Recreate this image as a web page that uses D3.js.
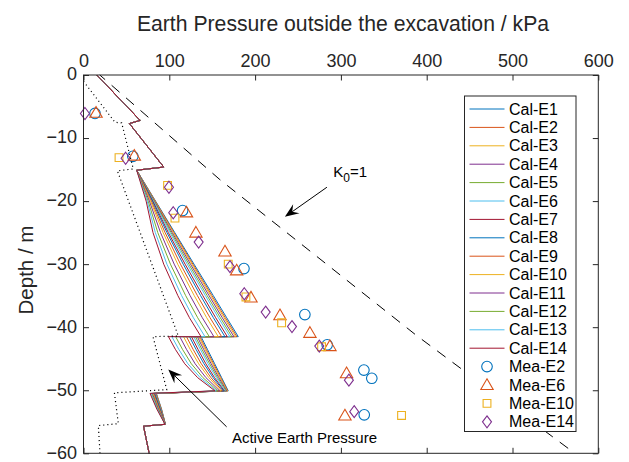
<!DOCTYPE html>
<html>
<head>
<meta charset="utf-8">
<script src="https://cdn.jsdelivr.net/npm/d3@7"></script>
<style>
  html, body { margin: 0; padding: 0; background: #fff; }
  svg { display: block; font-family: "Liberation Sans", Arial, Helvetica, sans-serif; }
</style>
</head>
<body>
<svg id="chart" width="629" height="462"></svg>
<script>
// ---- data -------------------------------------------------------------
const xTicks = [0, 100, 200, 300, 400, 500, 600];
const yTicks = [0, -10, -20, -30, -40, -50, -60];

const calcNames = ["Cal-E1", "Cal-E2", "Cal-E3", "Cal-E4", "Cal-E5", "Cal-E6", "Cal-E7",
                   "Cal-E8", "Cal-E9", "Cal-E10", "Cal-E11", "Cal-E12", "Cal-E13", "Cal-E14"];
const lineColors = ["#0072BD", "#D95319", "#EDB120", "#7E2F8E", "#77AC30", "#4DBEEE", "#A2142F"];

// depths (m) shared by every calculated profile
const calcDepth = [0, -7.2, -7.7, -14.6, -15.1,
                   -20, -25, -30, -35, -38.5, -41.5,
                   -41.5, -43.5, -45.8, -48, -50.1,
                   -50.5, -53, -55.4,
                   -55.7, -60];
// pressures (kPa) common to all profiles near the surface and at the toe
const calcTop = [15.5, 66, 53.5, 93.5, 62];
const calcBottom = [70, 76.5];
// pressures (kPa) of each profile between -20 m and -55.4 m
const calcE1  = [84.0, 106.4, 128.8, 151.3, 166.9, 180.4, 137.0, 144.4, 152.9, 161.0, 168.7, 85.0, 91.0, 95.5];
const calcE2  = [83.6, 105.5, 127.5, 149.7, 165.3, 178.8, 135.6, 143.0, 151.6, 160.0, 168.1, 84.7, 90.8, 95.5];
const calcE3  = [83.2, 104.6, 126.3, 148.3, 163.8, 177.3, 134.3, 141.7, 150.4, 159.0, 167.6, 84.5, 90.6, 95.5];
const calcE4  = [82.7, 103.4, 124.7, 146.4, 161.8, 175.3, 132.6, 140.0, 148.8, 157.7, 166.9, 84.1, 90.4, 95.4];
const calcE5  = [82.1, 102.1, 122.8, 144.2, 159.5, 173.0, 130.5, 138.0, 147.0, 156.2, 166.1, 83.7, 90.1, 95.4];
const calcE6  = [81.6, 100.7, 120.9, 142.1, 157.2, 170.7, 128.5, 136.1, 145.1, 154.8, 165.2, 83.3, 89.8, 95.4];
const calcE7  = [80.8,  98.9, 118.4, 139.1, 154.1, 167.6, 125.8, 133.4, 142.6, 152.7, 164.1, 82.8, 89.4, 95.4];
const calcE8  = [80.1,  97.3, 116.2, 136.5, 151.4, 164.9, 123.4, 131.1, 140.4, 151.0, 163.2, 82.3, 89.0, 95.3];
const calcE9  = [79.1,  95.1, 113.0, 132.8, 147.5, 161.0, 120.0, 127.7, 137.3, 148.5, 161.8, 81.6, 88.5, 95.3];
const calcE10 = [78.1,  92.8, 109.8, 129.1, 143.6, 157.1, 116.6, 124.3, 134.2, 146.0, 160.4, 81.0, 88.0, 95.2];
const calcE11 = [76.8,  89.8, 105.7, 124.3, 138.5, 152.0, 112.2, 120.0, 130.1, 142.7, 158.6, 80.1, 87.4, 95.2];
const calcE12 = [75.4,  86.6, 101.3, 119.1, 133.1, 146.6, 107.4, 115.3, 125.7, 139.2, 156.6, 79.2, 86.7, 95.1];
const calcE13 = [74.2,  83.7,  97.2, 114.4, 128.1, 141.6, 103.0, 111.0, 121.7, 136.0, 154.8, 78.3, 86.1, 95.1];
const calcE14 = [73.0,  81.0,  93.5, 110.0, 123.5, 137.0,  99.0, 107.0, 118.0, 133.0, 153.2, 77.5, 85.5, 95.0];
const calcMiddle = [calcE1, calcE2, calcE3, calcE4, calcE5, calcE6, calcE7,
                    calcE8, calcE9, calcE10, calcE11, calcE12, calcE13, calcE14];

// measured values [pressure kPa, depth m]
const meaNames = ["Mea-E2", "Mea-E6", "Mea-E10", "Mea-E14"];
const meaE2 = [[13.4, -6.1], [57.5, -12.9], [115.5, -21.5], [187, -30.7], [258, -38.0],
               [284, -42.8], [326.8, -46.8], [336, -48.1], [327.2, -53.9]];
const meaE6 = [[14.6, -6.0], [59.2, -12.8], [120, -21.8], [131, -25.0], [164.9, -28.0],
               [178.5, -31.0], [195.2, -35.3], [229, -38.1], [263.9, -40.9], [287.2, -43.0],
               [306.6, -47.3], [304.7, -54.0]];
const meaE10 = [[41.4, -13.1], [98, -17.5], [106.6, -22.7], [168.7, -30.0], [189.3, -35.2],
                [230.9, -39.3], [277.5, -43.1], [370.7, -54.0]];
const meaE14 = [[1.7, -6.1], [49.1, -13.2], [99.6, -17.8], [104.6, -21.85], [134.2, -26.5],
                [170.7, -30.4], [187.4, -34.7], [212.3, -37.6], [243, -39.9], [274.8, -43.0],
                [309.3, -48.4], [315.5, -53.4]];
const meaSets = [meaE2, meaE6, meaE10, meaE14];
const meaSymbols = ["circle", "triangle", "square", "diamond"];
const meaColors = ["#0072BD", "#D95319", "#EDB120", "#7E2F8E"];

// reference profiles [pressure kPa, depth m]
const atRestK0 = [[19, 0], [159, -16.6], [388, -41.3], [572.6, -60]];
const activePressure = [[0, -1.0], [36.7, -7.5], [44.5, -7.6], [58, -14.9], [39.5, -15.2],
                        [110.5, -41.4], [81, -41.5], [97, -49.9], [36, -50.4],
                        [40.6, -55.3], [17.3, -55.6], [19.2, -60]];

// ---- layout -----------------------------------------------------------
const axisColor = "#262626";
const svg = d3.select("#chart");
const x = d3.scaleLinear().domain([0, 600]).range([83.5, 598.3]);
const y = d3.scaleLinear().domain([0, -60]).range([75, 453.3]);
const [x0, x1] = x.range();
const [y0, y1] = y.range();

const line = d3.line().x(d => x(d[0])).y(d => y(d[1]));

// ---- calculated profiles ----------------------------------------------
const calcSeries = calcMiddle.map((mid, i) => {
  const p = calcTop.concat(mid, calcBottom);
  return p.map((v, k) => [v, calcDepth[k]]);
});

svg.append("g").selectAll("path")
  .data(calcSeries)
  .join("path")
  .attr("d", line)
  .attr("fill", "none")
  .attr("stroke", (d, i) => lineColors[i % lineColors.length])
  .attr("stroke-width", 1)
  .attr("stroke-linejoin", "round");

// ---- measured markers --------------------------------------------------
function markerPath(kind, cx, cy) {
  const p = d3.path();
  if (kind === "circle") {
    p.arc(cx, cy, 5.3, 0, 2 * Math.PI);
  } else if (kind === "triangle") {
    const s = 6.2;
    p.moveTo(cx, cy - s); p.lineTo(cx + s, cy + s * 0.72); p.lineTo(cx - s, cy + s * 0.72); p.closePath();
  } else if (kind === "square") {
    const s = 3.9;
    p.rect(cx - s, cy - s, 2 * s, 2 * s);
  } else {
    p.moveTo(cx, cy - 6); p.lineTo(cx + 4.5, cy); p.lineTo(cx, cy + 6); p.lineTo(cx - 4.5, cy); p.closePath();
  }
  return p.toString();
}

meaSets.forEach((set, i) => {
  svg.append("g").selectAll("path")
    .data(set)
    .join("path")
    .attr("d", d => markerPath(meaSymbols[i], x(d[0]), y(d[1])))
    .attr("fill", "none")
    .attr("stroke", meaColors[i])
    .attr("stroke-width", 1.1);
});

// ---- reference profiles -----------------------------------------------
svg.append("path")
  .datum(atRestK0)
  .attr("d", line)
  .attr("fill", "none")
  .attr("stroke", "#000")
  .attr("stroke-width", 1)
  .attr("stroke-dasharray", "10.5,8.6")
  .attr("stroke-dashoffset", 3.4);

svg.append("path")
  .datum(activePressure)
  .attr("d", line)
  .attr("fill", "none")
  .attr("stroke", "#000")
  .attr("stroke-width", 1.2)
  .attr("stroke-dasharray", "1.1,3");

// ---- annotations --------------------------------------------------------
function arrow(from, to) {
  const ax = x(from[0]), ay = y(from[1]), bx = x(to[0]), by = y(to[1]);
  const ang = Math.atan2(by - ay, bx - ax);
  const len = 14, half = 5.5, notch = 9;
  const ux = Math.cos(ang), uy = Math.sin(ang);
  const nx = -uy, ny = ux;
  svg.append("line")
    .attr("x1", ax).attr("y1", ay)
    .attr("x2", bx - ux * notch).attr("y2", by - uy * notch)
    .attr("stroke", "#000").attr("stroke-width", 1);
  const p = d3.path();
  p.moveTo(bx, by);
  p.lineTo(bx - ux * len + nx * half, by - uy * len + ny * half);
  p.lineTo(bx - ux * notch, by - uy * notch);
  p.lineTo(bx - ux * len - nx * half, by - uy * len - ny * half);
  p.closePath();
  svg.append("path").attr("d", p.toString()).attr("fill", "#000");
}

arrow([283.7, -17.8], [234.7, -22.5]);
arrow([166.8, -55.8], [98.8, -46.7]);

const k0 = svg.append("text")
  .attr("x", x(291)).attr("y", y(-16.1))
  .attr("font-size", 15).attr("fill", "#000");
k0.append("tspan").text("K");
k0.append("tspan").attr("dy", 5).attr("font-size", 12).text("0");
k0.append("tspan").attr("dy", -5).text("=1");

svg.append("text")
  .attr("x", x(173)).attr("y", y(-58.3))
  .attr("font-size", 15).attr("fill", "#000")
  .text("Active Earth Pressure");

// ---- axes box -------------------------------------------------------------
const axes = svg.append("g").attr("stroke", axisColor).attr("stroke-width", 1).attr("fill", "none");
axes.append("rect").attr("x", x0).attr("y", y0).attr("width", x1 - x0).attr("height", y1 - y0);

const topAxis = svg.append("g")
  .attr("transform", `translate(0,${y0})`)
  .call(d3.axisTop(x).tickValues(xTicks).tickSize(-5.5).tickPadding(8.5).tickFormat(d3.format("d")));
const bottomAxis = svg.append("g")
  .attr("transform", `translate(0,${y1})`)
  .call(d3.axisBottom(x).tickValues(xTicks).tickSize(-5.5).tickFormat(""));
const leftAxis = svg.append("g")
  .attr("transform", `translate(${x0},0)`)
  .call(d3.axisLeft(y).tickValues(yTicks).tickSize(-5.5).tickPadding(6.5).tickFormat(d3.format("d")));
const rightAxis = svg.append("g")
  .attr("transform", `translate(${x1},0)`)
  .call(d3.axisRight(y).tickValues(yTicks).tickSize(-5.5).tickFormat(""));

[topAxis, bottomAxis, leftAxis, rightAxis].forEach(g => {
  g.select(".domain").remove();
  g.selectAll(".tick line").attr("stroke", axisColor);
  g.selectAll("text")
    .attr("fill", axisColor)
    .attr("font-size", 18)
    .attr("font-family", "Liberation Sans, Arial, sans-serif");
});
leftAxis.selectAll("text").attr("dy", "0.27em");

// ---- titles ---------------------------------------------------------------
svg.append("text")
  .attr("x", 343).attr("y", 31)
  .attr("text-anchor", "middle")
  .attr("font-size", 21.2).attr("fill", axisColor)
  .text("Earth Pressure outside the excavation / kPa");

svg.append("text")
  .attr("transform", "translate(33,270) rotate(-90)")
  .attr("text-anchor", "middle")
  .attr("font-size", 20.5).attr("fill", axisColor)
  .text("Depth / m");

// ---- legend ---------------------------------------------------------------
const legend = svg.append("g");
legend.append("rect")
  .attr("x", 464.5).attr("y", 96).attr("width", 111.5).attr("height", 335.5)
  .attr("fill", "#fff").attr("stroke", axisColor).attr("stroke-width", 1);

const rowH = 18.4, row0 = 109;
calcNames.forEach((name, i) => {
  const cy = row0 + i * rowH;
  legend.append("line")
    .attr("x1", 469.5).attr("x2", 504.5).attr("y1", cy).attr("y2", cy)
    .attr("stroke", lineColors[i % lineColors.length]).attr("stroke-width", 1);
  legend.append("text")
    .attr("x", 509).attr("y", cy + 5.6)
    .attr("font-size", 16).attr("fill", "#000").text(name);
});
meaNames.forEach((name, i) => {
  const cy = row0 + (calcNames.length + i) * rowH;
  legend.append("path")
    .attr("d", markerPath(meaSymbols[i], 487, cy))
    .attr("fill", "none").attr("stroke", meaColors[i]).attr("stroke-width", 1.1);
  legend.append("text")
    .attr("x", 509).attr("y", cy + 5.6)
    .attr("font-size", 16).attr("fill", "#000").text(name);
});
</script>
</body>
</html>
